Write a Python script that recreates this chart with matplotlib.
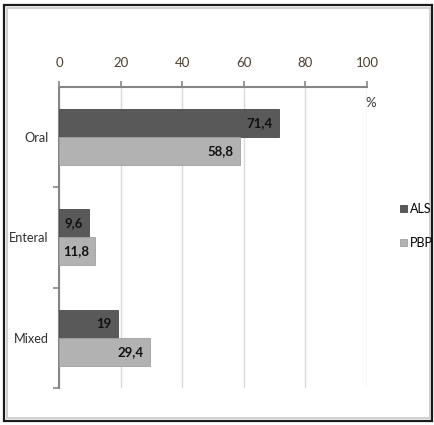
import matplotlib
matplotlib.use("Agg")
import matplotlib.pyplot as plt
from matplotlib.patches import Rectangle
import numpy as np

categories = ["Oral", "Enteral", "Mixed"]
series_names = ["ALS", "PBP"]
als = [71.4, 9.6, 19]
pbp = [58.8, 11.8, 29.4]
als_labels = ["71,4", "9,6", "19"]
pbp_labels = ["58,8", "11,8", "29,4"]
xticks = [0, 20, 40, 60, 80, 100]

W, H = 435, 425
plt.rcParams['font.family'] = ['Lato', 'DejaVu Sans']
fig = plt.figure(figsize=(W/100, H/100), dpi=100)

# borders
fig.patches.append(Rectangle((4/W, 1-421/H), (432-4)/W, (421-4.5)/H, transform=fig.transFigure,
                             fill=False, edgecolor='#1a1a1a', linewidth=1.6))
fig.patches.append(Rectangle((7.5/W, 1-418/H), (430.5-7.5)/W, (418-7.5)/H, transform=fig.transFigure,
                             fill=False, edgecolor='#c8c8c8', linewidth=1.2))

ax = fig.add_axes([59/W, 1-388/H, (367-59)/W, (388-86.7)/H])
y = np.arange(len(categories))
h = 0.28
c_als = '#595959'
c_pbp = '#b2b2b2'
ax.barh(y - h/2, als, height=h, color=c_als, edgecolor='#4a4a4a', linewidth=0.6, zorder=3, label=series_names[0])
ax.barh(y + h/2, pbp, height=h, color=c_pbp, edgecolor='#a0a0a0', linewidth=0.6, zorder=3, label=series_names[1])

fs = 9.5
for yi, v, t in zip(y, als, als_labels):
    ax.text(v - 2.0, yi - h/2, t, ha='right', va='center', fontsize=fs, fontweight='bold', color='#111111', zorder=4)
for yi, v, t in zip(y, pbp, pbp_labels):
    ax.text(v - 2.0, yi + h/2, t, ha='right', va='center', fontsize=fs, fontweight='bold', color='#111111', zorder=4)

ax.set_xlim(0, 100)
ax.set_ylim(2.5, -0.5)
ax.xaxis.tick_top()
ax.set_xticks(xticks)
ax.set_xticklabels([str(t) for t in xticks], fontsize=fs, color='#4a4030')
ax.tick_params(axis='x', which='major', direction='out', length=4, width=1.2, color='#868686', pad=9)
ax.set_yticks(y)
ax.set_yticklabels(categories, fontsize=9.2, color='#303030')
ax.set_yticks([0.5, 1.5, 2.5], minor=True)
ax.tick_params(axis='y', which='major', length=0, pad=7.5)
ax.tick_params(axis='y', which='minor', direction='out', length=4, width=1.2, color='#868686')

ax.grid(axis='x', color='#d9d9d9', linewidth=1.0, zorder=0)
for s in ['right', 'bottom']:
    ax.spines[s].set_visible(False)
for s in ['top', 'left']:
    ax.spines[s].set_color('#868686')
    ax.spines[s].set_linewidth(1.5)
ax.set_facecolor('none')

ax.text(0.995, 0.945, '%', transform=ax.transAxes, fontsize=fs, color='#303030',
        ha='left', va='center')

fig.legend(loc='center left', bbox_to_anchor=(394/W, 1-226/H), frameon=False,
           handlelength=0.55, handleheight=0.55, handletextpad=0.2, labelspacing=1.75,
           fontsize=9, borderpad=0)

fig.savefig('out.png', dpi=100)
